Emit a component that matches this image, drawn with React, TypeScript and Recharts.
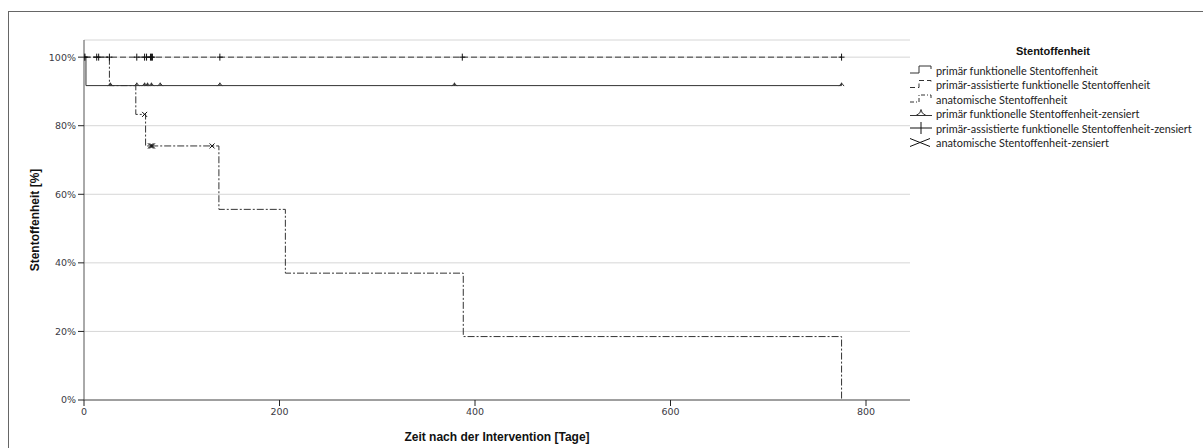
import { CartesianGrid, ComposedChart, Label, Line, Scatter, XAxis, YAxis } from "recharts";

// Kaplan-Meier Stufen: Tag des Ereignisses und Offenheit ab diesem Tag [%]
const primaerTage = [0, 2, 775];
const primaerWerte = [100, 91.7, 91.7];

const assistiertTage = [0, 775];
const assistiertWerte = [100, 100];

const anatomTage = [0, 26, 53, 63, 138, 206, 388, 775];
const anatomWerte = [100, 91.7, 83.3, 74.1, 55.6, 37.0, 18.5, 0];

// zensierte Fälle (Tage)
const primaerZensiert = [27, 54, 62, 65, 69, 78, 139, 379, 775];
const assistiertZensiert = [0, 1, 13, 15, 26, 54, 62, 64, 68, 69, 70, 139, 387, 775];
const anatomZensiert = [62, 68, 69, 70, 131];

const xTicks = [0, 200, 400, 600, 800];
const yTicks = [0, 20, 40, 60, 80, 100];

const legendTitel = "Stentoffenheit";
const legendTexte = [
  "primär funktionelle Stentoffenheit",
  "primär-assistierte funktionelle Stentoffenheit",
  "anatomische Stentoffenheit",
  "primär funktionelle  Stentoffenheit-zensiert",
  "primär-assistierte funktionelle Stentoffenheit-zensiert",
  "anatomische Stentoffenheit-zensiert",
];

const INK = "#333";
const DASH = "6 3";
const DASH_DOT = "7 2 2 2";

const toRows = (tage: number[], werte: number[]) => tage.map((t, i) => ({ t, v: werte[i] }));

// Wert der Stufenkurve an einem Tag (für die Position der Zensurzeichen)
const stepValue = (tage: number[], werte: number[], t: number) => {
  let v = werte[0];
  tage.forEach((d, i) => {
    if (d <= t) v = werte[i];
  });
  return v;
};

const censorRows = (zensiert: number[], tage: number[], werte: number[]) =>
  zensiert.map((t) => {
    // Zensur am selben Tag wie ein Ereignis liegt noch auf der oberen Stufe
    const idx = tage.indexOf(t);
    const v = idx > 0 ? werte[idx - 1] : stepValue(tage, werte, t);
    return { t, v };
  });

const primaerData = toRows(primaerTage, primaerWerte);
const assistiertData = toRows(assistiertTage, assistiertWerte);
const anatomData = toRows(anatomTage, anatomWerte);

const primaerCensor = censorRows(primaerZensiert, primaerTage, primaerWerte);
const assistiertCensor = censorRows(assistiertZensiert, assistiertTage, assistiertWerte);
const anatomCensor = censorRows(anatomZensiert, anatomTage, anatomWerte);

type Pt = { cx?: number; cy?: number };

const Tent = ({ cx = 0, cy = 0 }: Pt) => (
  <path
    d={`M${cx - 2.5},${cy + 0.5} L${cx},${cy - 2.5} L${cx + 2.5},${cy + 0.5} M${cx},${cy - 3} V${cy}`}
    stroke={INK}
    strokeWidth={1}
    fill="none"
  />
);

const Plus = ({ cx = 0, cy = 0 }: Pt) => (
  <path
    d={`M${cx - 3},${cy} H${cx + 3} M${cx},${cy - 3.5} V${cy + 3.5}`}
    stroke="#111"
    strokeWidth={1}
    fill="none"
  />
);

const Cross = ({ cx = 0, cy = 0 }: Pt) => (
  <path
    d={`M${cx - 2.5},${cy - 2.5} L${cx + 2.5},${cy + 2.5} M${cx + 2.5},${cy - 2.5} L${cx - 2.5},${cy + 2.5}`}
    stroke="#111"
    strokeWidth={1}
    fill="none"
  />
);

const tickStyle = { fontSize: 9.5, fill: "#3a3a44", fontFamily: "DejaVu Sans" };
const titleStyle = { fontSize: 12, fontWeight: 700, fill: "#111", fontFamily: "Liberation Sans" };

function LegendBox() {
  const rowY = [70, 84.5, 99, 113.5, 128, 142.5];
  const icons = [
    <path d="M0,3 H9 V-4 H21 V-1" stroke={INK} fill="none" />,
    <path d="M0,3 H9 V-4 H21 V-1" stroke={INK} fill="none" strokeDasharray="5 3" />,
    <path d="M0,3 H9 V-4 H21 V-1" stroke={INK} fill="none" strokeDasharray="4 2 1 2" />,
    <path d="M0,2 H22 M6,2 Q11,0 11,-4 Q11,0 16,2" stroke={INK} fill="none" />,
    <path d="M0,0 H22 M11,-6 V6" stroke="#111" fill="none" />,
    <path d="M0,-4 L20,4 M0,4 L20,-4" stroke="#111" fill="none" />,
  ];
  return (
    <svg width={298} height={160} style={{ position: "absolute", left: 905, top: 0 }}>
      <text x={148} y={51} textAnchor="middle" dominantBaseline="central" style={{ ...titleStyle, fontSize: 11 }}>
        {legendTitel}
      </text>
      {legendTexte.map((txt, i) => (
        <g key={txt}>
          <g transform={`translate(5 ${rowY[i]})`}>{icons[i]}</g>
          <text
            x={31}
            y={rowY[i]}
            dominantBaseline="central"
            style={{ fontSize: 10.9, fill: "#222", fontFamily: "Lato" }}
          >
            {txt}
          </text>
        </g>
      ))}
    </svg>
  );
}

export default function App() {
  return (
    <div
      style={{
        position: "absolute",
        left: 0,
        top: 0,
        width: 1203,
        height: 448,
        overflow: "hidden",
        background: "#fff",
      }}
    >
      <div
        style={{
          position: "absolute",
          left: 8,
          top: 11,
          width: 1300,
          height: 600,
          border: "1px solid #666",
        }}
      />
      <div style={{ position: "absolute", left: 0, top: 0 }}>
        <ComposedChart width={1203} height={448} margin={{ top: 40, right: 293, bottom: 0, left: 0 }}>
          <CartesianGrid vertical={false} stroke="#d6d6d6" />
          <XAxis
            type="number"
            dataKey="t"
            domain={[0, 845]}
            ticks={xTicks}
            allowDataOverflow
            height={48}
            tickSize={6}
            tick={tickStyle}
            tickLine={{ stroke: "#222" }}
            axisLine={{ stroke: "#555" }}
          >
            <Label value="Zeit nach der Intervention [Tage]" position="insideBottom" offset={7} style={titleStyle} />
          </XAxis>
          <YAxis
            type="number"
            dataKey="v"
            domain={[0, 105]}
            ticks={yTicks}
            width={84}
            tickSize={6}
            tickFormatter={(v: number) => `${v}%`}
            tick={tickStyle}
            tickLine={{ stroke: "#222" }}
            axisLine={{ stroke: "#555" }}
          >
            <Label
              content={(props: any) => {
                const vb = props.viewBox ?? { x: 0, y: 40, height: 360 };
                const cx = vb.x + 35;
                const cy = vb.y + vb.height / 2;
                return (
                  <text
                    x={cx}
                    y={cy}
                    transform={`rotate(-90 ${cx} ${cy})`}
                    textAnchor="middle"
                    dominantBaseline="central"
                    style={titleStyle}
                  >
                    Stentoffenheit [%]
                  </text>
                );
              }}
            />
          </YAxis>

          <Line
            data={anatomData}
            dataKey="v"
            type="stepAfter"
            stroke={INK}
            strokeWidth={1}
            strokeDasharray={DASH_DOT}
            dot={false}
            activeDot={false}
            isAnimationActive={false}
          />
          <Line
            data={assistiertData}
            dataKey="v"
            type="stepAfter"
            stroke={INK}
            strokeWidth={1}
            strokeDasharray={DASH}
            dot={false}
            activeDot={false}
            isAnimationActive={false}
          />
          <Line
            data={primaerData}
            dataKey="v"
            type="stepAfter"
            stroke={INK}
            strokeWidth={1}
            dot={false}
            activeDot={false}
            isAnimationActive={false}
          />

          <Scatter data={primaerCensor} dataKey="v" shape={(p: Pt) => <Tent {...p} />} isAnimationActive={false} />
          <Scatter data={assistiertCensor} dataKey="v" shape={(p: Pt) => <Plus {...p} />} isAnimationActive={false} />
          <Scatter data={anatomCensor} dataKey="v" shape={(p: Pt) => <Cross {...p} />} isAnimationActive={false} />
        </ComposedChart>
      </div>
      <LegendBox />
    </div>
  );
}
